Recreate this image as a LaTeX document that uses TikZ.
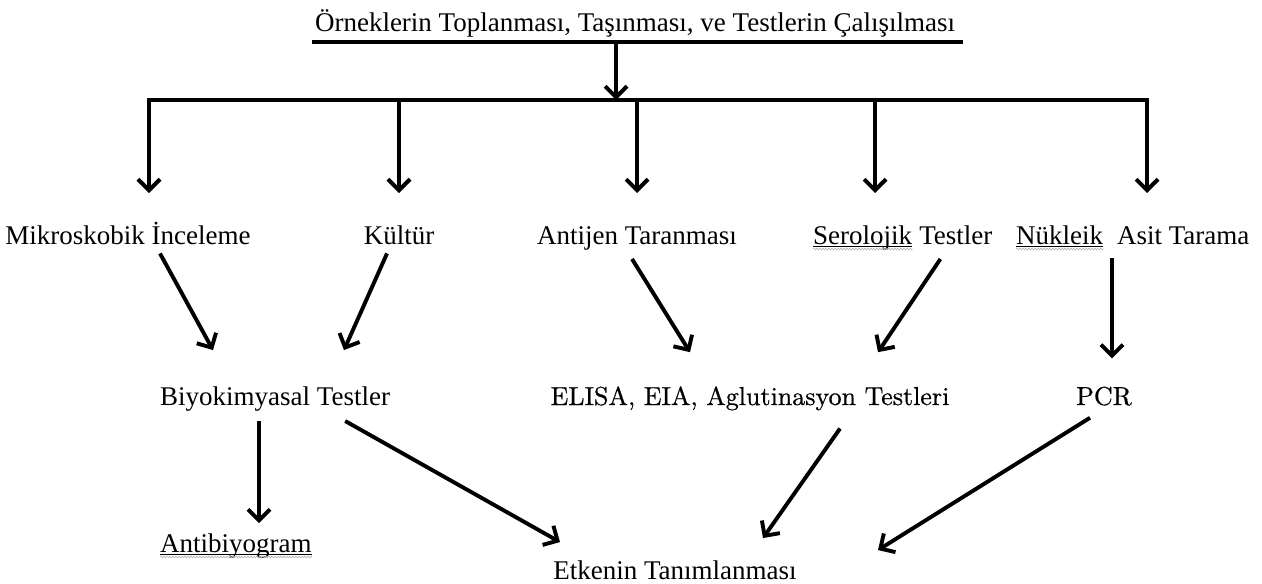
\documentclass[tikz,border=0pt]{standalone}
\usepackage{fontspec}
\setmainfont{Liberation Serif}
\newfontfamily\lmfont{lmroman10-regular.otf}[FakeBold=0.6]
\usetikzlibrary{arrows.meta,decorations.pathmorphing,calc}

\begin{document}
\begin{tikzpicture}[x=1pt,y=-1pt,
  lbl/.style={anchor=base, inner sep=0pt, font=\fontsize{27}{30}\selectfont},
  elbl/.style={anchor=base, inner sep=0pt, font=\lmfont\fontsize{26}{30}\selectfont},
  conn/.style={line width=3.9pt, -{Straight Barb[length=11pt,width=22pt]}},
  squig/.style={gray!60, line width=0.6pt, decorate,
    decoration={snake, amplitude=0.9pt, segment length=3pt}},
  uline/.style={line width=0.7pt}
]
\useasboundingbox (0,0) rectangle (1262,584);

% title and its rule
\node[lbl] (t) at (635,31) {Örneklerin Toplanması, Taşınması, ve Testlerin Çalışılması};
\coordinate (ul1) at (312,42);
\coordinate (ul2) at (963,42);
\draw[line width=4.2pt] (ul1) -- (ul2);

% distribution bar
\coordinate (drop) at (616,42);
\coordinate (hub)  at (616,100);
\coordinate (bar1) at (149,100);
\coordinate (bar2) at (399,100);
\coordinate (bar3) at (637,100);
\coordinate (bar4) at (875,100);
\coordinate (bar5) at (1147,100);
\draw[conn] (drop) -- (hub);

% first row of methods
\node[lbl] (m1) at (128,244) {Mikroskobik İnceleme};
\node[lbl] (m2) at (399,244) {Kültür};
\node[lbl] (m3) at (637,244) {Antijen Taranması};
\node[lbl, anchor=base west] (m4w) at (813,244) {Serolojik};
\node[lbl, anchor=base west] (m4) at (m4w.base east) {\ Testler};
\node[lbl, anchor=base west] (m5w) at (1016,244) {Nükleik};
\node[lbl, anchor=base west] (m5) at (m5w.base east) {\ \ Asit Tarama};

\coordinate (tip1) at (149,193);
\coordinate (tip2) at (399,193);
\coordinate (tip3) at (637,193);
\coordinate (tip4) at (875,193);
\coordinate (tip5) at (1147,193);
\draw[conn] (bar3) -- (bar1) -- (tip1);
\draw[conn] (bar3) -- (bar5) -- (tip5);
\draw[conn] (bar2) -- (tip2);
\draw[conn] (bar3) -- (tip3);
\draw[conn] (bar4) -- (tip4);

% second row
\node[lbl, anchor=base west] (b) at (160,405) {Biyokimyasal Testler};
\node[elbl] (e) at (750,405) {ELISA, EIA, Aglutinasyon Testleri};
\node[elbl] (p) at (1104,405) {PCR};

% third row
\node[lbl, anchor=base west] (a) at (160,552) {Antibiyogram};
\node[lbl] (k) at (675,579) {Etkenin Tanımlanması};

% spelling marks under flagged words
\foreach \w in {m4w,m5w,a}{
  \draw[uline] ([yshift=-2pt]\w.base west) -- ([yshift=-2pt]\w.base east);
  \draw[squig] ([yshift=-5pt]\w.base west) -- ([yshift=-5pt]\w.base east);
}

% connectors between the rows
\coordinate (n5) at ([xshift=8pt]p.north |- m5w.south);
\draw[conn] ([xshift=32pt,yshift=-9pt]m1.south) -- ([xshift=53pt,yshift=36pt]b.north west);
\draw[conn] ([xshift=-12pt,yshift=-9pt]m2.south) -- ([xshift=184pt,yshift=36pt]b.north west);
\draw[conn] ([xshift=-5pt,yshift=-9pt]m3.south) -- ([xshift=-60pt,yshift=34pt]e.north);
\draw[conn] ([xshift=28pt,yshift=-9pt]m4w.south east) -- ([xshift=128pt,yshift=34pt]e.north);
\draw[conn] ([yshift=-14pt]n5) -- ([xshift=8pt,yshift=28pt]p.north);

\draw[conn] ([xshift=99pt,yshift=-10pt]b.south west) -- ([xshift=99pt,yshift=10pt]a.north west);
\draw[conn] ([xshift=-45pt,yshift=-10pt]b.south east) -- ([xshift=-115pt,yshift=18pt]k.north);
\draw[conn] ([xshift=90pt,yshift=-18pt]e.south) -- ([xshift=88pt,yshift=22pt]k.north);
\draw[conn] ([xshift=-14pt,yshift=-12pt]p.south) -- ([xshift=203pt,yshift=10pt]k.north);
\end{tikzpicture}
\end{document}
